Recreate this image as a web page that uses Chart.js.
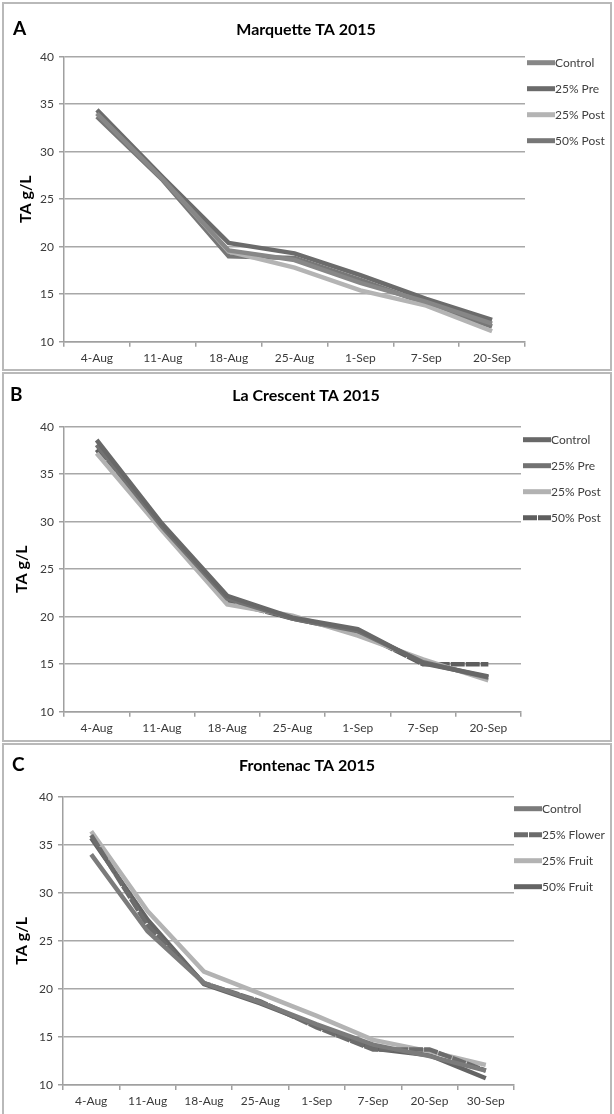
<!DOCTYPE html>
<html>
<head>
<meta charset="utf-8">
<script src="https://cdn.jsdelivr.net/npm/chart.js@4.4.0/dist/chart.umd.min.js"></script>
<style>
  body { margin: 0; background: #fff; width: 614px; height: 1114px; position: relative; overflow: hidden; }
  canvas { position: absolute; left: 0; }
  .frame { position: absolute; left: 2px; width: 610px; border: 2px solid #b9b9b9; box-sizing: border-box; pointer-events: none; }
</style>
</head>
<body>
<div class="frame" style="top:2px;height:369px"></div>
<div class="frame" style="top:372px;height:370px"></div>
<div class="frame" style="top:743px;height:373px"></div>
<canvas id="chartA" width="614" height="368" style="top:2px"></canvas>
<canvas id="chartB" width="614" height="369" style="top:372px"></canvas>
<canvas id="chartC" width="614" height="371" style="top:743px"></canvas>
<script>
const FONT = "Lato, 'Open Sans', sans-serif";

// ---- Marquette (A)
const marquetteDates = ["4-Aug", "11-Aug", "18-Aug", "25-Aug", "1-Sep", "7-Sep", "20-Sep"];
const marquetteNames = ["Control", "25% Pre", "25% Post", "50% Post"];
const marquetteControl = [34.0, 27.1, 19.6, 18.6, 16.2, 14.2, 11.9];
const marquettePre25 = [34.4, 27.3, 20.4, 19.3, 17.0, 14.5, 12.3];
const marquettePost25 = [34.1, 27.2, 19.5, 17.8, 15.4, 13.8, 11.1];
const marquettePost50 = [33.7, 27.0, 19.0, 18.8, 16.5, 14.0, 11.6];

// ---- La Crescent (B)
const laCrescentDates = ["4-Aug", "11-Aug", "18-Aug", "25-Aug", "1-Sep", "7-Sep", "20-Sep"];
const laCrescentNames = ["Control", "25% Pre", "25% Post", "50% Post"];
const laCrescentControl = [38.6, 29.8, 22.2, 19.9, 18.7, 15.1, 13.7];
const laCrescentPre25 = [38.1, 29.5, 21.9, 19.8, 18.5, 15.2, 13.6];
const laCrescentPost25 = [37.2, 29.1, 21.3, 20.1, 18.0, 15.5, 13.3];
const laCrescentPost50 = [37.6, 29.4, 21.6, 19.8, 18.4, 15.0, 15.0];

// ---- Frontenac (C)
const frontenacDates = ["4-Aug", "11-Aug", "18-Aug", "25-Aug", "1-Sep", "7-Sep", "20-Sep", "30-Sep"];
const frontenacNames = ["Control", "25% Flower", "25% Fruit", "50% Fruit"];
const frontenacControl = [34.0, 26.0, 20.6, 18.6, 16.3, 14.2, 13.0, 11.5];
const frontenacFlower25 = [36.0, 26.6, 20.6, 18.7, 16.0, 13.7, 13.7, 11.5];
const frontenacFruit25 = [36.4, 28.1, 21.8, 19.5, 17.2, 14.7, 13.5, 12.1];
const frontenacFruit50 = [35.7, 27.2, 20.5, 18.5, 16.2, 13.8, 13.1, 10.7];

const yTicks = [10, 15, 20, 25, 30, 35, 40];

// draws panel letter, chart title and the excel-like legend (line sample + text)
const panelExtras = {
  id: "panelExtras",
  afterDraw(chart, args, opts) {
    const ctx = chart.ctx;
    ctx.save();
    ctx.fillStyle = "#000";
    ctx.textBaseline = "middle";
    ctx.font = "bold 19px " + FONT;
    ctx.textAlign = "left";
    ctx.fillText(opts.letter, opts.letterX, opts.letterY);

    ctx.font = "bold 16px " + FONT;
    ctx.textAlign = "center";
    ctx.fillText(opts.title, opts.titleX, opts.titleY);

    ctx.textAlign = "left";
    const x = chart.chartArea.right + opts.legendDx;
    chart.data.datasets.forEach((ds, i) => {
      const y = chart.chartArea.top + opts.legendDy + i * 26;
      ctx.beginPath();
      ctx.strokeStyle = ds.borderColor;
      ctx.lineWidth = 5;
      ctx.setLineDash(ds.borderDash || []);
      ctx.moveTo(x, y);
      ctx.lineTo(x + 28, y);
      ctx.stroke();
      ctx.setLineDash([]);
      ctx.fillStyle = "#404040";
      ctx.font = "12px " + FONT;
      ctx.fillText(ds.label, x + 28, y);
    });
    ctx.restore();
  },
};

function buildChart(id, cfg) {
  const ctx = document.getElementById(id).getContext("2d");
  new Chart(ctx, {
    type: "line",
    data: {
      labels: cfg.dates,
      datasets: cfg.names.map((name, i) => ({
        label: name,
        data: cfg.values[i],
        borderColor: cfg.colors[i],
        backgroundColor: cfg.colors[i],
        borderDash: cfg.dashes[i],
        borderWidth: 4.5,
        pointRadius: 0,
        tension: 0,
        fill: false,
      })),
    },
    options: {
      responsive: false,
      animation: false,
      layout: { padding: { left: 0, right: cfg.padRight, top: cfg.padTop, bottom: 0 } },
      plugins: {
        legend: { display: false },
        tooltip: { enabled: false },
        title: { display: false },
        panelExtras: cfg.extras,
      },
      scales: {
        x: {
          offset: true,
          grid: { drawOnChartArea: false, offset: true, tickLength: 5, color: "#a0a0a0", lineWidth: 1.5 },
          border: { color: "#a0a0a0", width: 1.5 },
          ticks: { color: "#3a3a3a", font: { family: FONT, size: 12 }, padding: 4, maxRotation: 0, autoSkip: false },
          afterFit(scale) { scale.height = cfg.xHeight; },
        },
        y: {
          min: 10,
          max: 40,
          afterBuildTicks(scale) { scale.ticks = yTicks.map((v) => ({ value: v })); },
          grid: { color: "#a8a8a8", lineWidth: 1.5, tickLength: 5, tickColor: "#a0a0a0" },
          border: { color: "#a0a0a0", width: 1.5 },
          ticks: { color: "#3a3a3a", font: { family: FONT, size: 12 }, padding: 5 },
          title: {
            display: true,
            text: "TA g/L",
            color: "#000",
            font: { family: FONT, size: 16, weight: "bold" },
            padding: { top: cfg.yTitlePad, bottom: 0 },
          },
          afterFit(scale) { scale.width = cfg.yWidth; },
        },
      },
    },
    plugins: [panelExtras],
  });
}

buildChart("chartA", {
  dates: marquetteDates,
  names: marquetteNames,
  values: [marquetteControl, marquettePre25, marquettePost25, marquettePost50],
  colors: ["#878787", "#6b6b6b", "#b4b4b4", "#777777"],
  dashes: [[], [], [], []],
  padRight: 89,
  padTop: 54.7,
  xHeight: 28.3,
  yWidth: 64,
  yTitlePad: 16,
  extras: { title: "Marquette TA 2015", titleX: 306, titleY: 28, letter: "A", letterX: 13, letterY: 27, legendDx: 2, legendDy: 6 },
});

buildChart("chartB", {
  dates: laCrescentDates,
  names: laCrescentNames,
  values: [laCrescentControl, laCrescentPre25, laCrescentPost25, laCrescentPost50],
  colors: ["#686868", "#727272", "#b2b2b2", "#5e5e5e"],
  dashes: [[], [], [], [14, 1]],
  padRight: 93,
  padTop: 54.7,
  xHeight: 29.3,
  yWidth: 64,
  yTitlePad: 12,
  extras: { title: "La Crescent TA 2015", titleX: 306, titleY: 24, letter: "B", letterX: 10, letterY: 23, legendDx: 2, legendDy: 13 },
});

buildChart("chartC", {
  dates: frontenacDates,
  names: frontenacNames,
  values: [frontenacControl, frontenacFlower25, frontenacFruit25, frontenacFruit50],
  colors: ["#7b7b7b", "#6c6c6c", "#b3b3b3", "#646464"],
  dashes: [[], [14, 1], [], []],
  padRight: 100,
  padTop: 53.7,
  xHeight: 29,
  yWidth: 63,
  yTitlePad: 12,
  extras: { title: "Frontenac TA 2015", titleX: 307, titleY: 23, letter: "C", letterX: 12, letterY: 22, legendDx: 0, legendDy: 12 },
});
</script>
</body>
</html>
